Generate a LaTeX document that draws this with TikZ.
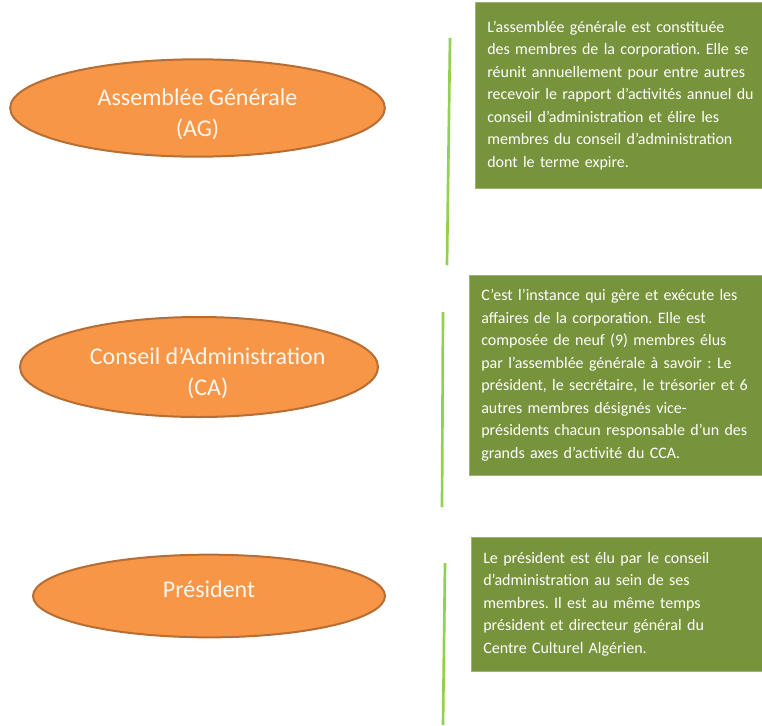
\documentclass[tikz,border=0pt]{standalone}
\usepackage{fontspec}
\setmainfont{Carlito}
\definecolor{ccaorange}{RGB}{247,150,70}
\definecolor{ccaorangedark}{RGB}{182,110,52}
\definecolor{ccaolive}{RGB}{119,147,60}
\definecolor{ccalime}{RGB}{146,208,80}
\usetikzlibrary{shapes.geometric}
\frenchspacing

\begin{document}
\begin{tikzpicture}[x=0.75pt,y=-0.75pt]

%
% Styles
%
\tikzstyle{organ}     = [ellipse,draw=ccaorangedark,fill=ccaorange,line width=1.5pt]
\tikzstyle{organtext} = [text=white!94!orange,align=center,inner sep=0pt,
                         font=\fontsize{18}{23}\selectfont]
\tikzstyle{infobox}   = [anchor=north west,fill=ccaolive,draw=ccaolive!70!white,
                         text=white,align=left,inner xsep=9pt,inner ysep=0pt,
                         font=\fontsize{12}{16.9}\selectfont]
\tikzstyle{bar}       = [draw=ccalime,line width=2pt]

\useasboundingbox (0,0) rectangle (762,725);

% ellipses
\node[organ,minimum width=281pt,minimum height=73pt] (ag) at (197.5,108) {};
\node[organ,minimum width=268.5pt,minimum height=75pt] (ca) at (199,367) {};
\node[organ,minimum width=264pt,minimum height=62pt] (pres) at (209,596) {};

\node[organtext] (agname) at ([yshift=-4.5pt]ag.center)
  {Assemblée Générale\\(AG)};
\node[organtext] (caname) at ([xshift=6.5pt,yshift=-4.5pt]ca.center)
  {Conseil d’Administration\\(CA)};
\node[organtext] (presname) at ([yshift=5.25pt]pres.center)
  {Président};

% descriptions
\node[infobox,text width=204pt,minimum height=139.5pt] (agtxt) at (475,2)
  {L’assemblée générale est constituée\\
   des membres de la corporation. Elle se\\
   réunit annuellement pour entre autres\\
   recevoir le rapport d’activités annuel du\\
   conseil d’administration et élire les\\
   membres du conseil d’administration\\
   dont le terme expire.};
\node[infobox,text width=201.5pt,minimum height=150pt] (catxt) at (469,275)
  {C’est l’instance qui gère et exécute les\\
   affaires de la corporation. Elle est\\
   composée de neuf (9) membres élus\\
   par l’assemblée générale à savoir : Le\\
   président, le secrétaire, le trésorier et 6\\
   autres membres désignés vice-\\
   présidents chacun responsable d’un des\\
   grands axes d’activité du CCA.};
\node[infobox,text width=200pt,minimum height=100.5pt] (prestxt) at (471,537)
  {Le président est élu par le conseil\\
   d’administration au sein de ses\\
   membres. Il est au même temps\\
   président et directeur général du\\
   Centre Culturel Algérien.};

% separators
\coordinate (agtop)   at (450,38);
\coordinate (agbot)   at (447,265);
\coordinate (catop)   at (443,312);
\coordinate (cabot)   at (442,507);
\coordinate (prestop) at (445,563);
\coordinate (presbot) at (443,725);
\draw[bar] (agtop) -- (agbot);
\draw[bar] (catop) -- (cabot);
\draw[bar] (prestop) -- (presbot);

\end{tikzpicture}
\end{document}
